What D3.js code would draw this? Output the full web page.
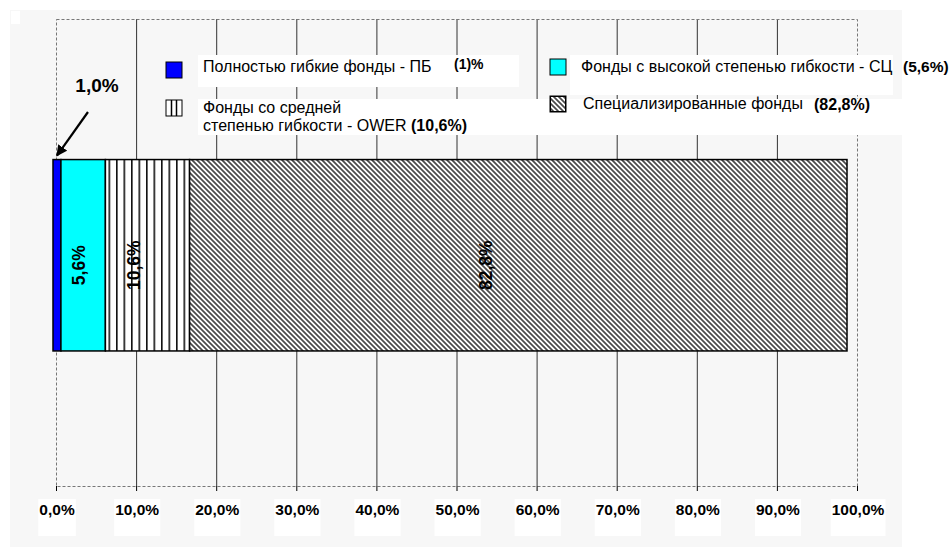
<!DOCTYPE html>
<html>
<head>
<meta charset="utf-8">
<script src="https://cdn.jsdelivr.net/npm/d3@7"></script>
<style>
  body { margin: 0; background: #fff; }
  svg { display: block; font-family: "Liberation Sans", Arial, sans-serif; }
</style>
</head>
<body>
<div id="chart"></div>
<script>
// Data
const categories = ["ПБ", "СЦ", "OWER", "Спец"];
const shares = [1.0, 5.6, 10.6, 82.8];
const barLabels = ["1,0%", "5,6%", "10,6%", "82,8%"];
const legendNames = [
    ["Полностью гибкие фонды - ПБ"],
    ["Фонды с высокой степенью гибкости - СЦ"],
    ["Фонды со средней", "степенью гибкости - OWER"],
    ["Специализированные фонды"]
];
const legendShares = ["(1)%", "(5,6%)", "(10,6%)", "(82,8%)"];
const tickValues = [0, 10, 20, 30, 40, 50, 60, 70, 80, 90, 100];

const W = 950, H = 547;
const margin = { top: 19, left: 56, right: 93, bottom: 61 };
const width = W - margin.left - margin.right;
const height = H - margin.top - margin.bottom;

const svg = d3.select("#chart").append("svg")
    .attr("width", W)
    .attr("height", H);

// patterns
const defs = svg.append("defs");
const stripes = defs.append("pattern")
    .attr("id", "vstripes")
    .attr("patternUnits", "userSpaceOnUse")
    .attr("width", 7.5).attr("height", 10);
stripes.append("rect").attr("width", 7.5).attr("height", 10).attr("fill", "#fff");
stripes.append("rect").attr("x", 0).attr("width", 1.6).attr("height", 10).attr("fill", "#111");

// "\" hatch, 5px tile
const hatch = defs.append("pattern")
    .attr("id", "hatch")
    .attr("patternUnits", "userSpaceOnUse")
    .attr("width", 5).attr("height", 5);
hatch.append("rect").attr("width", 5).attr("height", 5).attr("fill", "#fff");
hatch.append("path")
    .attr("d", "M-1,-1 L6,6 M-1,4 L1,6 M4,-1 L6,1")
    .attr("stroke", "#4a4a4a")
    .attr("stroke-width", 1.7);

defs.append("marker")
    .attr("id", "arrowhead")
    .attr("viewBox", "0 0 10 10")
    .attr("refX", 9).attr("refY", 5)
    .attr("markerWidth", 5).attr("markerHeight", 5)
    .attr("orient", "auto")
    .append("path")
    .attr("d", "M0,0 L10,5 L0,10 Z")
    .attr("fill", "#000");

const fills = ["#0000ff", "#00ffff", "url(#vstripes)", "url(#hatch)"];

// background
svg.append("rect")
    .attr("x", 10).attr("y", 10)
    .attr("width", 892).attr("height", 537)
    .attr("fill", "#f7f7f7");
svg.append("rect")
    .attr("x", 11).attr("y", 11)
    .attr("width", 9).attr("height", 13)
    .attr("fill", "#fff");

const g = svg.append("g")
    .attr("transform", `translate(${margin.left},${margin.top})`);

// Scales
const x = d3.scaleLinear().domain([0, 100]).range([0, width]);
// the drawn bar sits slightly left of the axis and stops short of 100%
const xBar = d3.scaleLinear().domain([0, 100]).range([-3, width - 10]);
const y = d3.scaleBand().domain(["Фонды"]).range([0, height])
    .paddingInner(0).paddingOuter(0.72).align(0.51);

// gridlines
g.selectAll("line.grid")
    .data(tickValues.filter(d => d > 0 && d < 100))
    .enter().append("line")
    .attr("class", "grid")
    .attr("x1", d => x(d) + 0.5).attr("x2", d => x(d) + 0.5)
    .attr("y1", 0).attr("y2", height)
    .attr("stroke", "#333").attr("stroke-width", 1);

// dashed frame
g.append("rect")
    .attr("x", 0.5).attr("y", 0.5)
    .attr("width", width).attr("height", height)
    .attr("fill", "none")
    .attr("stroke", "#777")
    .attr("stroke-width", 1)
    .attr("stroke-dasharray", "3,2");

// ticks
g.selectAll("line.tick")
    .data(tickValues)
    .enter().append("line")
    .attr("x1", d => x(d) + 0.5).attr("x2", d => x(d) + 0.5)
    .attr("y1", height).attr("y2", height + 5)
    .attr("stroke", "#000");

// tick labels with white boxes
const fmt = d => d.toFixed(1).replace(".", ",") + "%";
const tl = g.selectAll("g.tl")
    .data(tickValues)
    .enter().append("g")
    .attr("transform", d => `translate(${x(d) + 1},${height + 29})`);
tl.append("rect").attr("fill", "#fff");
tl.append("text")
    .attr("text-anchor", "middle")
    .attr("font-size", 15.5)
    .attr("font-weight", "bold")
    .text(fmt);
tl.each(function() {
    const t = d3.select(this).select("text").node().getBBox();
    d3.select(this).select("rect")
        .attr("x", t.x - 1).attr("y", -16)
        .attr("width", t.width + 2).attr("height", 37);
});

// white boxes behind legend
const legendBoxes = [[142, 36, 321, 32], [514, 36, 323, 40], [142, 80, 704, 36]];
g.selectAll("rect.lbox")
    .data(legendBoxes)
    .enter().append("rect")
    .attr("x", d => d[0]).attr("y", d => d[1])
    .attr("width", d => d[2]).attr("height", d => d[3])
    .attr("fill", "#fff");

// stacked bar
const stacked = [];
let acc = 0;
shares.forEach((v, i) => {
    stacked.push({ key: categories[i], x0: acc, x1: acc + v, value: v, i: i });
    acc += v;
});

g.selectAll("rect.seg")
    .data(stacked)
    .enter().append("rect")
    .attr("class", "seg")
    .attr("x", d => xBar(d.x0))
    .attr("width", d => xBar(d.x1) - xBar(d.x0))
    .attr("y", y("Фонды"))
    .attr("height", y.bandwidth())
    .attr("fill", d => fills[d.i])
    .attr("stroke", "#000")
    .attr("stroke-width", 1.5);

// rotated labels inside segments
g.selectAll("text.seglabel")
    .data(stacked.slice(1))
    .enter().append("text")
    .attr("transform", d => `translate(${(xBar(d.x0) + xBar(d.x1)) / 2 - (d.i === 3 ? 32 : d.i === 2 ? 14 : 4)},${y("Фонды") + y.bandwidth() / 2 + 10}) rotate(-90)`)
    .attr("text-anchor", "middle")
    .attr("dy", "0.35em")
    .attr("font-size", 17.5)
    .attr("font-weight", "bold")
    .attr("fill", "#000")
    .text(d => barLabels[d.i]);

// 1,0% annotation with arrow
const blueMid = (xBar(stacked[0].x0) + xBar(stacked[0].x1)) / 2;
g.append("line")
    .attr("x1", blueMid + 31).attr("y1", 93)
    .attr("x2", blueMid).attr("y2", y("Фонды") - 4)
    .attr("stroke", "#000")
    .attr("stroke-width", 2.2)
    .attr("marker-end", "url(#arrowhead)");
g.append("text")
    .attr("x", blueMid + 40).attr("y", 73)
    .attr("text-anchor", "middle")
    .attr("font-size", 19)
    .attr("font-weight", "bold")
    .text(barLabels[0]);

// Legend
const legendPos = [[110, 43, 147, 53], [494, 40, 525, 53], [110, 81, 147, 94], [494, 77, 527, 90]];
const legend = g.selectAll("g.legend")
    .data(legendNames)
    .enter().append("g")
    .attr("class", "legend");

legend.append("rect")
    .attr("x", (d, i) => legendPos[i][0])
    .attr("y", (d, i) => legendPos[i][1])
    .attr("width", 16).attr("height", 16)
    .attr("fill", (d, i) => i === 0 ? fills[0] : i === 1 ? fills[1] : "#fff")
    .attr("stroke", "#000").attr("stroke-width", 1);

// small symbols for the patterned legend items
const owerSym = g.append("g");
[5.5, 10.5].forEach(dx => {
    owerSym.append("line")
        .attr("x1", legendPos[2][0] + dx).attr("x2", legendPos[2][0] + dx)
        .attr("y1", legendPos[2][1]).attr("y2", legendPos[2][1] + 16)
        .attr("stroke", "#000").attr("stroke-width", 1.5);
});
g.append("rect")
    .attr("x", legendPos[3][0] + 0.5).attr("y", legendPos[3][1] + 0.5)
    .attr("width", 15).attr("height", 15)
    .attr("fill", "url(#hatch)")
    .attr("stroke", "#000").attr("stroke-width", 1);

legend.each(function(lines, i) {
    const t = d3.select(this).append("text")
        .attr("font-size", 16)
        .attr("fill", "#000");
    lines.forEach((line, j) => {
        t.append("tspan")
            .attr("x", legendPos[i][2])
            .attr("y", legendPos[i][3] + j * 18)
            .text(line);
    });
});

const shareSpots = [[398, 50, 14], [847, 53, 15.5], [355, 112, 16], [758, 91, 16]];
g.selectAll("text.lshare")
    .data(legendShares)
    .enter().append("text")
    .attr("x", (d, i) => shareSpots[i][0])
    .attr("y", (d, i) => shareSpots[i][1])
    .attr("font-size", (d, i) => shareSpots[i][2])
    .attr("font-weight", "bold")
    .text(d => d);
</script>
</body>
</html>
